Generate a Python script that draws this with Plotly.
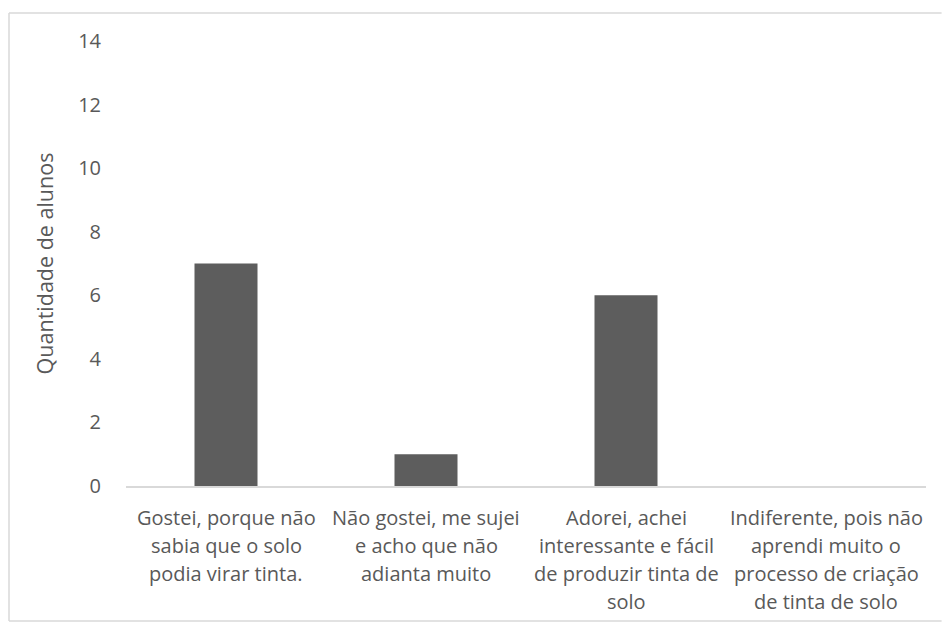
import plotly.graph_objects as go

categories = [
    "Gostei, porque não<br>sabia que o solo<br>podia virar tinta.",
    "Não gostei, me sujei<br>e acho que não<br>adianta muito",
    "Adorei, achei<br>interessante e fácil<br>de produzir tinta de<br>solo",
    "Indiferente, pois não<br>aprendi muito o<br>processo de criação<br>de tinta de solo",
]
values = [7, 1, 6, 0]
y_ticks = [0, 2, 4, 6, 8, 10, 12, 14]

text_color = "#595959"
font_family = "Open Sans, Lato, sans-serif"
border_color = "#d9d9d9"

fig = go.Figure(
    go.Bar(
        x=categories,
        y=values,
        marker=dict(color="#5d5d5d", line=dict(width=0)),
    )
)

# category labels: one annotation per text line for a looser line height
plot_h = 625 - 41 - 139
line_gap_px = 28
first_line_px = 31
annotations = []
for cat in categories:
    for i, line in enumerate(cat.split("<br>")):
        annotations.append(dict(
            x=cat, xref="x",
            y=-(first_line_px + i * line_gap_px) / plot_h, yref="paper",
            text=line, showarrow=False,
            xanchor="center", yanchor="middle",
            font=dict(size=20, color=text_color, family=font_family),
        ))

# outer chart frame (top, left, bottom edges), running off the right side
x_left, x_right, y_top, y_bot = -0.14625, 1.0195, 1.0629, -0.3034
frame = [
    dict(type="line", xref="paper", yref="paper", x0=x_left, x1=x_right, y0=y_top, y1=y_top),
    dict(type="line", xref="paper", yref="paper", x0=x_left, x1=x_left, y0=y_bot, y1=y_top),
    dict(type="line", xref="paper", yref="paper", x0=x_left, x1=x_right, y0=y_bot, y1=y_bot),
]
for s in frame:
    s["line"] = dict(color=border_color, width=1.5)
    s["layer"] = "below"

fig.update_layout(
    width=942,
    height=625,
    margin=dict(l=126, r=16, t=41, b=139),
    paper_bgcolor="white",
    plot_bgcolor="white",
    bargap=0.685,
    showlegend=False,
    font=dict(family=font_family, color=text_color, size=20),
    shapes=frame,
    annotations=annotations,
)

fig.update_xaxes(
    showgrid=False,
    showline=True,
    linecolor=border_color,
    linewidth=1.5,
    ticks="",
    showticklabels=False,
)
fig.update_yaxes(
    range=[0, 14],
    tickvals=y_ticks,
    showgrid=False,
    zeroline=False,
    showline=False,
    ticks="",
    ticklabelstandoff=24,
    tickfont=dict(size=20, color=text_color),
    title=dict(text="Quantidade de alunos", font=dict(size=21.5, color=text_color), standoff=18),
)

fig.write_html("out.html")
